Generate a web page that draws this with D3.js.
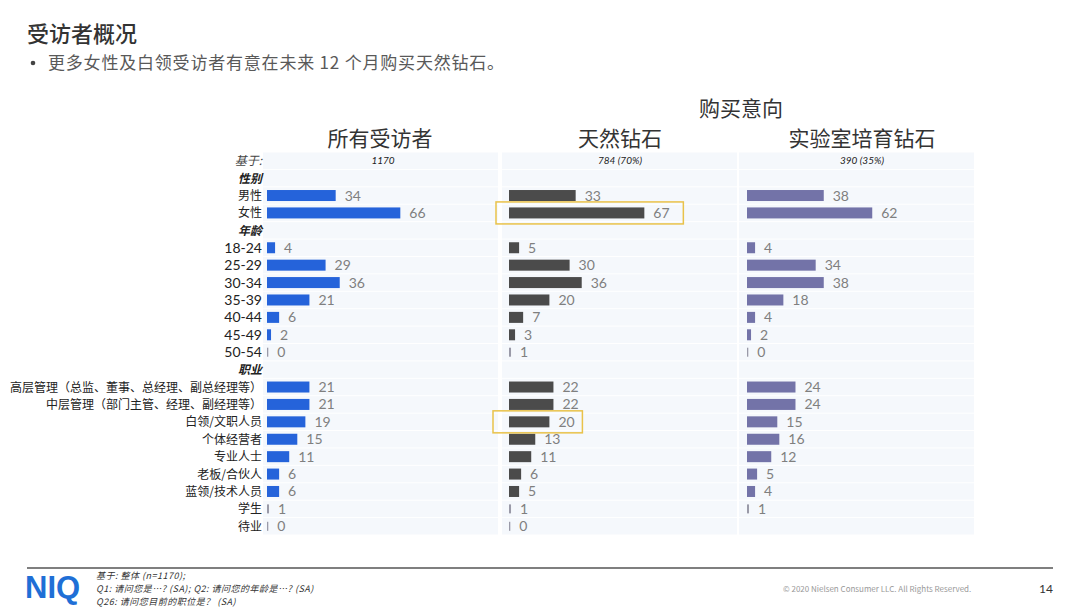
<!DOCTYPE html>
<html>
<head>
<meta charset="utf-8">
<script src="https://cdn.jsdelivr.net/npm/d3@7"></script>
<style>
  body { margin: 0; background: #fff; }
  svg { font-family: "Noto Sans CJK SC", "Noto Sans", sans-serif; }
  .num { font-family: Lato, "Noto Sans", sans-serif; }
</style>
</head>
<body>
<svg id="chart" width="1080" height="608"></svg>
<script>
// rows of the table, in order; type "h" = section header, "b" = base row
const rowLabels = ["基于:", "性别", "男性", "女性", "年龄", "18-24", "25-29", "30-34", "35-39", "40-44", "45-49", "50-54",
  "职业", "高层管理（总监、董事、总经理、副总经理等）", "中层管理（部门主管、经理、副经理等）", "白领/文职人员", "个体经营者",
  "专业人士", "老板/合伙人", "蓝领/技术人员", "学生", "待业"];
const rowTypes = ["b", "h", "", "", "h", "", "", "", "", "", "", "", "h", "", "", "", "", "", "", "", "", ""];

const seriesNames = ["所有受访者", "天然钻石", "实验室培育钻石"];
const seriesBase = ["1170", "784 (70%)", "390 (35%)"];
// null = no bar in that row
const allRespondents = [null, null, 34, 66, null, 4, 29, 36, 21, 6, 2, 0, null, 21, 21, 19, 15, 11, 6, 6, 1, 0];
const naturalDiamond = [null, null, 33, 67, null, 5, 30, 36, 20, 7, 3, 1, null, 22, 22, 20, 13, 11, 6, 5, 1, 0];
const labGrown = [null, null, 38, 62, null, 4, 34, 38, 18, 4, 2, 0, null, 24, 24, 15, 16, 12, 5, 4, 1, null];
const seriesValues = [allRespondents, naturalDiamond, labGrown];
const seriesColors = ["#2563da", "#4b4b4b", "#7373a8"];
// highlighted cells: [series index, row index]
const highlights = [[1, 3], [1, 15]];

const svg = d3.select("#chart");

// title
svg.append("text").attr("x", 27).attr("y", 42).attr("font-size", 22).attr("font-weight", 500)
  .attr("fill", "#333").text("受访者概况");
svg.append("circle").attr("cx", 33).attr("cy", 63).attr("r", 2.3).attr("fill", "#444");
svg.append("text").attr("x", 48).attr("y", 69).attr("font-size", 17).attr("fill", "#595959")
  .attr("letter-spacing", 0.8)
  .text("更多女性及白领受访者有意在未来 12 个月购买天然钻石。");

// layout scales
const y = d3.scaleBand().domain(d3.range(rowLabels.length)).range([152, 535]).paddingInner(0);
const bandStart = [263, 502, 739];
const bandWidth = 235;
const barStart = [267, 509, 747];
const headCenter = [380, 620, 862];
const x = d3.scaleLinear().domain([0, 100]).range([0, 202]);
const barH = 11;
const cy = (r) => y(r) + y.bandwidth() / 2;
const isNum = (s) => /^[0-9-]+$/.test(s);

// column headers
svg.append("text").attr("x", 741).attr("y", 115.5).attr("text-anchor", "middle")
  .attr("font-size", 21).attr("fill", "#333").text("购买意向");
seriesNames.forEach((name, i) => {
  svg.append("text").attr("x", headCenter[i]).attr("y", 146).attr("text-anchor", "middle")
    .attr("font-size", 21).attr("fill", "#333").text(name);
});

// pale row stripes behind each column
seriesNames.forEach((name, i) => {
  svg.append("g").selectAll("rect").data(d3.range(rowLabels.length)).enter().append("rect")
    .attr("x", bandStart[i])
    .attr("y", (d) => y(d) + 0.5)
    .attr("width", bandWidth)
    .attr("height", y.bandwidth() - 1)
    .attr("fill", "#f5f8fc");
});

// row labels
svg.append("g").selectAll("text").data(rowLabels).enter().append("text")
  .attr("class", (d) => isNum(d) ? "num" : null)
  .attr("x", 262)
  .attr("y", (d, i) => cy(i) + (isNum(d) ? 5 : 4.5))
  .attr("text-anchor", "end")
  .attr("font-size", (d, i) => isNum(d) ? 14 : 12)
  .attr("font-style", (d, i) => rowTypes[i] ? "italic" : "normal")
  .attr("font-weight", (d, i) => rowTypes[i] === "h" ? 700 : 400)
  .attr("fill", (d, i) => rowTypes[i] === "b" ? "#444" : "#222")
  .text((d) => d);

// base counts
seriesBase.forEach((b, i) => {
  svg.append("text").attr("class", "num").attr("x", headCenter[i] + (i === 0 ? 3 : 0))
    .attr("y", cy(0) + 3.5)
    .attr("text-anchor", "middle").attr("font-size", 10).attr("font-style", "italic")
    .attr("fill", "#222").text(b);
});

// bars and value labels
seriesValues.forEach((vals, i) => {
  const g = svg.append("g").attr("transform", `translate(${barStart[i]},0)`);
  const data = vals.map((v, r) => ({ v, r })).filter((d) => d.v !== null);
  g.selectAll("rect.bar").data(data).enter().append("rect")
    .attr("class", "bar")
    .attr("x", 0)
    .attr("y", (d) => cy(d.r) - barH / 2 + (d.v <= 1 ? 1 : 0))
    .attr("width", (d) => Math.max(x(d.v), 1.3))
    .attr("height", (d) => d.v <= 1 ? barH - 2 : barH)
    .attr("fill", (d) => d.v <= 1 ? "#9a9aa8" : seriesColors[i]);
  g.selectAll("text").data(data).enter().append("text")
    .attr("class", "num")
    .attr("x", (d) => Math.max(x(d.v), 1.3) + 9)
    .attr("y", (d) => cy(d.r) + 5)
    .attr("font-size", 14)
    .attr("fill", "#7f7f7f")
    .text((d) => d.v);
});

// highlight boxes
highlights.forEach(([s, r]) => {
  const v = seriesValues[s][r];
  svg.append("rect")
    .attr("x", barStart[s] - (v > 50 ? 13 : 16))
    .attr("y", cy(r) - 11)
    .attr("width", x(v) + (v > 50 ? 52 : 49))
    .attr("height", 22)
    .attr("fill", "none")
    .attr("stroke", "#e9c24a")
    .attr("stroke-width", 1.5);
});

// footer
svg.append("line").attr("x1", 27).attr("x2", 1053).attr("y1", 568).attr("y2", 568)
  .attr("stroke", "#555").attr("stroke-width", 1.5);
svg.append("text").attr("x", 25).attr("y", 598).attr("font-size", 31).attr("font-weight", 700)
  .attr("font-family", "Liberation Sans, Arial, sans-serif").attr("fill", "#1f6fd6")
  .attr("letter-spacing", 0).text("NIQ");
const notes = ["基于: 整体 (n=1170);", "Q1: 请问您是…? (SA); Q2: 请问您的年龄是…? (SA)", "Q26: 请问您目前的职位是？ (SA)"];
svg.append("g").selectAll("text").data(notes).enter().append("text")
  .attr("x", 96).attr("y", (d, i) => 579 + i * 13)
  .attr("font-size", 9).attr("font-style", "italic").attr("letter-spacing", 0.5)
  .attr("fill", "#333").text((d) => d);
svg.append("text").attr("x", 783).attr("y", 592).attr("font-size", 8).attr("fill", "#999")
  .text("© 2020 Nielsen Consumer LLC. All Rights Reserved.");
svg.append("text").attr("class", "num").attr("x", 1053).attr("y", 593).attr("text-anchor", "end")
  .attr("font-size", 12).attr("fill", "#333").text("14");
</script>
</body>
</html>
